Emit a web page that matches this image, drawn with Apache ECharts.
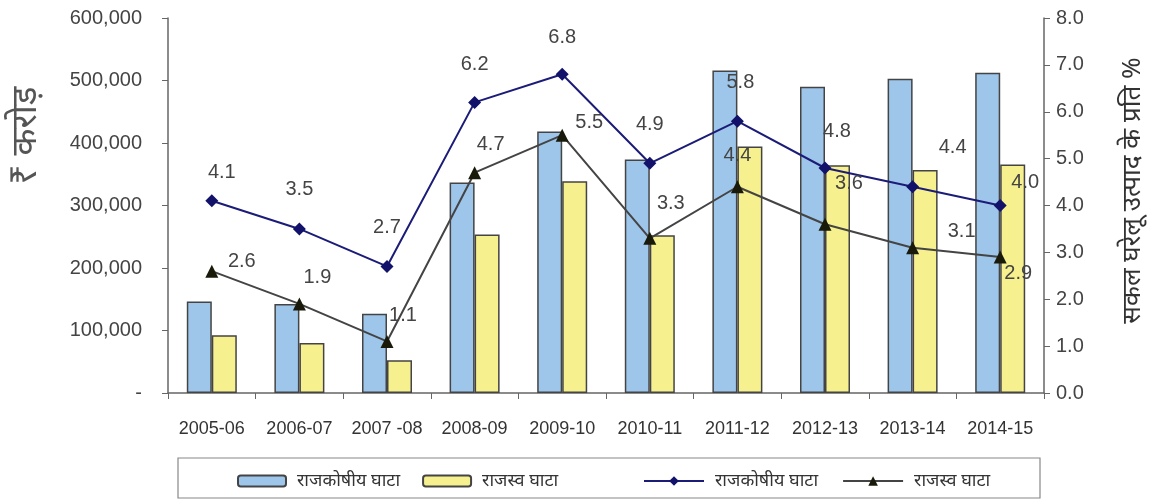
<!DOCTYPE html>
<html>
<head>
<meta charset="utf-8">
<script src="https://cdn.jsdelivr.net/npm/echarts@6/dist/echarts.min.js"></script>
<style>html,body{margin:0;padding:0;background:#fff}#c{width:1154px;height:501px}</style>
</head>
<body>
<div id="c"></div>
<script>
const categories = ['2005-06','2006-07','2007 -08','2008-09','2009-10','2010-11','2011-12','2012-13','2013-14','2014-15'];
const fiscalDeficitCr = [146400, 142600, 126900, 337000, 418500, 373600, 516000, 490200, 502900, 512600];
const revenueDeficitCr = [92300, 80200, 52600, 253500, 339000, 252300, 394300, 364300, 357000, 365500];
const fiscalDeficitPct = [4.1, 3.5, 2.7, 6.2, 6.8, 4.9, 5.8, 4.8, 4.4, 4.0];
const revenueDeficitPct = [2.6, 1.9, 1.1, 4.7, 5.5, 3.3, 4.4, 3.6, 3.1, 2.9];
const nameFiscal = 'राजकोषीय घाटा';
const nameRevenue = 'राजस्व घाटा';

const fiscalLabelOffsets = [[10,-7],[0,-18],[0,-17],[0,-16],[0,-15],[0,-17],[3,-17],[12,-15],[40,-18],[25,-2]];
const revenueLabelOffsets = [[30,12],[18,-5],[16,-4],[16,-7],[27,9],[21,-13],[0,-10],[24,-19],[49,5],[18,38]];

const FONT = 'Liberation Sans, Arial, sans-serif';
const DEVA = 'Noto Sans, Noto Sans Devanagari, Lohit Devanagari, sans-serif';
const labelStyle = {show:true, position:'top', distance:5, color:'#444', fontSize:20, fontFamily:FONT,
  formatter: p => p.value.toFixed(1)};

const chart = echarts.init(document.getElementById('c'));
chart.setOption({
  animation:false,
  grid:{left:168, right:109, top:18, bottom:108},
  legend:[
    {data:[nameFiscal, nameRevenue], left:232, top:467, itemWidth:48, itemHeight:11, itemGap:22,
      textStyle:{fontFamily:DEVA, fontSize:18, color:'#333', padding:[0,0,0,6]}},
    {data:[nameFiscal+' ', nameRevenue+' '], left:638, top:467, itemWidth:60, itemHeight:12, itemGap:24,
      formatter: n => n.trim(),
      textStyle:{fontFamily:DEVA, fontSize:18, color:'#333', padding:[0,0,0,6]}}
  ],
  graphic:[{type:'rect', shape:{x:178, y:458, width:862, height:40}, style:{fill:'none', stroke:'#888', lineWidth:1.2}, silent:true}],
  xAxis:{type:'category', data:categories, boundaryGap:true,
    axisLine:{lineStyle:{color:'#666', width:1.5}},
    axisTick:{show:true, inside:false, length:6, lineStyle:{color:'#666'}},
    axisLabel:{color:'#333', fontSize:18, fontFamily:FONT, margin:27, interval:0}},
  yAxis:[
    {type:'value', min:0, max:600000, interval:100000, splitLine:{show:false},
      axisLine:{show:true, lineStyle:{color:'#666', width:1.5}},
      axisTick:{show:true, length:6, lineStyle:{color:'#666'}},
      axisLabel:{color:'#444', fontSize:20, fontFamily:FONT, margin:26,
        formatter: v => v === 0 ? '-' : v.toLocaleString('en-US')},
      name:'₹ करोड़', nameLocation:'middle', nameRotate:90, nameGap:124,
      nameTextStyle:{fontFamily:DEVA, fontSize:35, color:'#555', padding:[0,0,0,140]}},
    {type:'value', min:0, max:8, interval:1, splitLine:{show:false}, position:'right',
      axisLine:{show:true, lineStyle:{color:'#666', width:1.5}},
      axisTick:{show:true, length:6, lineStyle:{color:'#666'}},
      axisLabel:{color:'#444', fontSize:20, fontFamily:FONT, margin:12, formatter: v => v.toFixed(1)},
      name:'सकल घरेलू उत्पाद के प्रति %', nameLocation:'middle', nameRotate:90, nameGap:76,
      nameTextStyle:{fontFamily:DEVA, fontSize:26, color:'#333', padding:[0,0,0,30]}}
  ],
  series:[
    {name:nameFiscal, type:'bar', data:fiscalDeficitCr, barWidth:25, barGap:'0%',
      itemStyle:{color:'#9dc6ea', borderColor:'#444', borderWidth:1.5}},
    {name:nameRevenue, type:'bar', data:revenueDeficitCr, barWidth:25, barGap:'0%',
      itemStyle:{color:'#f7f08e', borderColor:'#444', borderWidth:1.5}},
    {name:nameFiscal+' ', type:'line', yAxisIndex:1, symbol:'diamond', symbolSize:13,
      lineStyle:{color:'#1b1b78', width:2}, itemStyle:{color:'#12126a'},
      data: fiscalDeficitPct.map((v,i)=>({value:v, label:Object.assign({}, labelStyle, {offset:fiscalLabelOffsets[i]})}))},
    {name:nameRevenue+' ', type:'line', yAxisIndex:1, symbol:'triangle', symbolSize:13,
      lineStyle:{color:'#444', width:2}, itemStyle:{color:'#1a1a0a'},
      data: revenueDeficitPct.map((v,i)=>({value:v, label:Object.assign({}, labelStyle, {offset:revenueLabelOffsets[i]})}))}
  ]
});
</script>
</body>
</html>
